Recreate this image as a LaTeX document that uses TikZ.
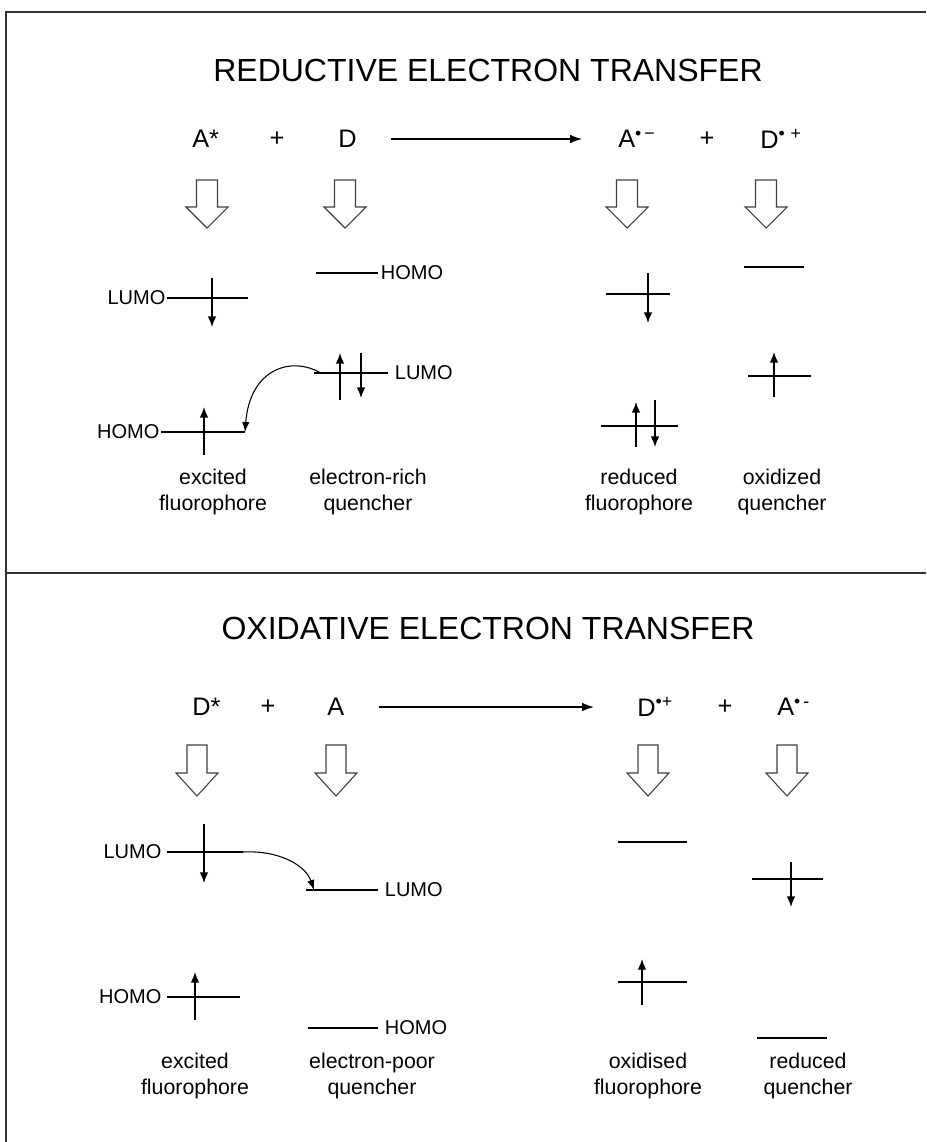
\documentclass[tikz,border=0pt]{standalone}
\usepackage{fontspec}
\setmainfont{Liberation Sans}
\usetikzlibrary{arrows.meta,positioning}

\begin{document}
\begin{tikzpicture}[x=0.75pt, y=-0.75pt,
    heading/.style={font=\fontsize{24}{28}\selectfont},
    species/.style={font=\fontsize{19}{22}\selectfont, inner sep=0pt, anchor=west},
    orblabel/.style={font=\fontsize{15}{17}\selectfont, inner sep=1pt},
    caption/.style={font=\fontsize{16}{19.5}\selectfont, align=center},
    level/.style={line width=1.1pt},
    spin/.style={line width=1.1pt, -{Latex[length=8pt,width=6.5pt]}},
    transfer/.style={line width=0.8pt, -{Latex[length=7.5pt,width=5.5pt]}},
    hollow/.style={draw=black!75, line width=0.8pt, fill=white},
]
\useasboundingbox (0,0) rectangle (926,1142);

% Frame
\draw[line width=1.2pt, black!80] (926,12) -- (6,12) -- (6,1142);
\draw[line width=1.2pt, black!80] (6,573) -- (926,573);

%%%%% Reductive electron transfer %%%%%
\node[heading] (redtitle) at (488,70) {REDUCTIVE ELECTRON TRANSFER};

% Reaction
\node[species] (astar) at (192,139) {A*};
\node[font=\fontsize{19}{22}\selectfont] (plusa) at (277,139) {+};
\node[species] (dred) at (338,139) {D};
\node[species] (arad) at (618,139) {A\textsuperscript{\textbullet\,−}};
\node[font=\fontsize{19}{22}\selectfont] (plusb) at (707,139) {+};
\node[species] (drad) at (760,139) {D\textsuperscript{\textbullet\,\,+}};
\draw[line width=0.9pt, -{Latex[length=9pt,width=6.5pt]}] (dred.east) ++(34,0) coordinate (rxa) -- (582,139) coordinate (rxb);

% Hollow arrows
\foreach \x in {207,345,627,766}
    \draw[hollow] (\x-10.5,180) -- (\x+10.5,180) -- (\x+10.5,207) -- (\x+21,207)
        -- (\x,228) -- (\x-21,207) -- (\x-10.5,207) -- cycle;

% Excited fluorophore
\coordinate (alumo) at (167,298);
\draw[level] (alumo) -- ++(81,0);
\node[orblabel, left=0pt of alumo] {LUMO};
\draw[spin] (212,278) -- (212,327);
\coordinate (ahomo) at (161,432);
\draw[level] (ahomo) -- (245,432) coordinate (ahomoend);
\node[orblabel, left=0pt of ahomo] {HOMO};
\draw[spin] (204,455) -- (204,407);

% Electron-rich quencher
\coordinate (dhomo) at (316,273);
\draw[level] (dhomo) -- (378,273) coordinate (dhomoend);
\node[orblabel, right=1pt of dhomoend] {HOMO};
\coordinate (dlumo) at (314,373);
\draw[level] (dlumo) -- (388,373) coordinate (dlumoend);
\node[orblabel, right=4pt of dlumoend] {LUMO};
\draw[spin] (340,400) -- (340,353);
\draw[spin] (361,353) -- (361,398);

\draw[transfer] ([xshift=5pt]dlumo) .. controls (292,356) and (250,368) .. (ahomoend);

% Reduced fluorophore
\draw[level] (606,294) -- (670,294);
\draw[spin] (648,273) -- (648,323);
\draw[level] (601,426) -- (678,426);
\draw[spin] (636,447) -- (636,402);
\draw[spin] (655,400) -- (655,447);

% Oxidized quencher
\draw[level] (744,267) -- (804,267);
\draw[level] (748,376) -- (811,376);
\draw[spin] (774,397) -- (774,352);

\node[caption] (capa) at (213,492) {excited\\fluorophore};
\node[caption] (capb) at (368,492) {electron-rich\\quencher};
\node[caption] (capc) at (639,492) {reduced\\fluorophore};
\node[caption] (capd) at (782,492) {oxidized\\quencher};

%%%%% Oxidative electron transfer %%%%%
\node[heading] (oxtitle) at (488,628) {OXIDATIVE ELECTRON TRANSFER};

% Reaction
\node[species] (dstar) at (192,707) {D*};
\node[font=\fontsize{19}{22}\selectfont] (plusc) at (268,707) {+};
\node[species] (aox) at (327,707) {A};
\node[species] (drada) at (637,707) {D\textsuperscript{\textbullet+}};
\node[font=\fontsize{19}{22}\selectfont] (plusd) at (725,707) {+};
\node[species] (arada) at (777,707) {A\textsuperscript{\textbullet\,-}};
\draw[line width=0.9pt, -{Latex[length=9pt,width=6.5pt]}] (379,707) coordinate (rxc) -- (594,707) coordinate (rxd);

% Hollow arrows
\foreach \x in {197,336,648,787}
    \draw[hollow] (\x-10,745) -- (\x+10,745) -- (\x+10,773) -- (\x+21,773)
        -- (\x,796) -- (\x-21,773) -- (\x-10,773) -- cycle;

% Excited fluorophore
\coordinate (dslumo) at (167,852);
\draw[level] (dslumo) -- (243,852) coordinate (dslumoend);
\node[orblabel, left=3pt of dslumo] {LUMO};
\draw[spin] (204,824) -- (204,883);
\coordinate (dshomo) at (167,997);
\draw[level] (dshomo) -- (240,997);
\node[orblabel, left=3pt of dshomo] {HOMO};
\draw[spin] (195,1020) -- (195,972);

% Electron-poor quencher
\coordinate (aqlumo) at (306,890);
\draw[level] (aqlumo) -- (378,890) coordinate (aqlumoend);
\node[orblabel, right=4pt of aqlumoend] {LUMO};
\coordinate (aqhomo) at (308,1028);
\draw[level] (aqhomo) -- (378,1028) coordinate (aqhomoend);
\node[orblabel, right=4pt of aqhomoend] {HOMO};

\draw[transfer] (dslumoend) .. controls (280,850) and (306,866) .. ([xshift=6pt]aqlumo);

% Oxidised fluorophore
\draw[level] (618,842) -- (687,842);
\draw[level] (618,982) -- (687,982);
\draw[spin] (642,1005) -- (642,959);

% Reduced quencher
\draw[level] (752,879) -- (823,879);
\draw[spin] (791,862) -- (791,907);
\draw[level] (757,1038) -- (827,1038);

\node[caption] (cape) at (195,1076) {excited\\fluorophore};
\node[caption] (capf) at (372,1076) {electron-poor\\quencher};
\node[caption] (capg) at (648,1076) {oxidised\\fluorophore};
\node[caption] (caph) at (808,1076) {reduced\\quencher};

\end{tikzpicture}
\end{document}
